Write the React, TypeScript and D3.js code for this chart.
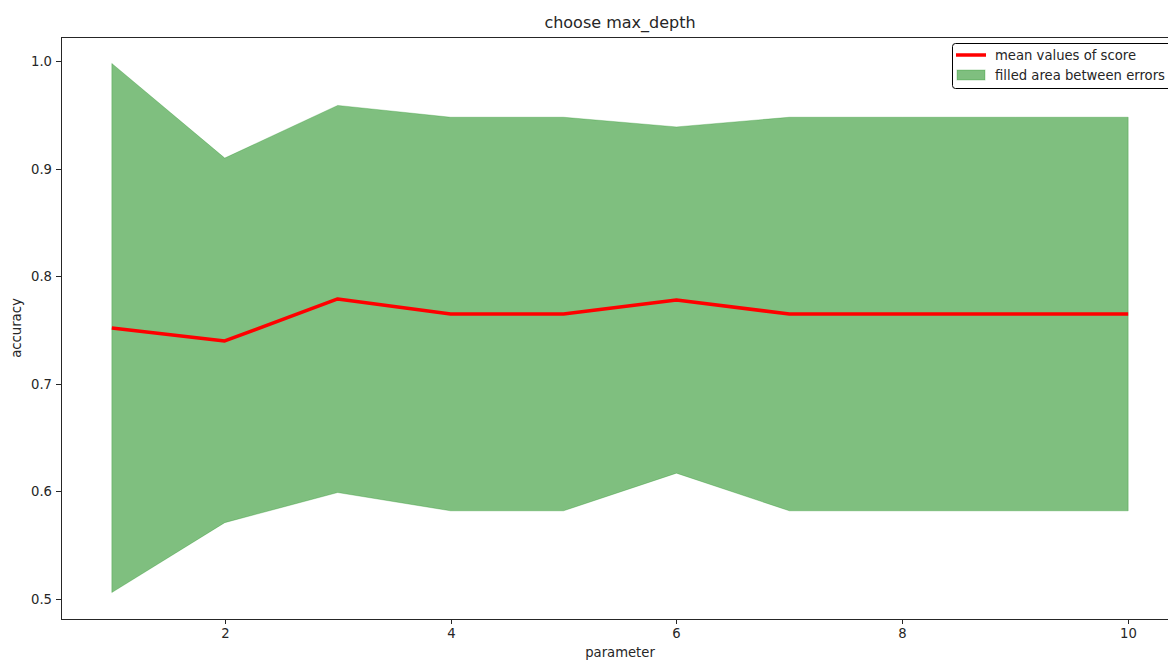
import { useEffect, useRef } from "react";
import * as d3 from "d3";

const params = [1, 2, 3, 4, 5, 6, 7, 8, 9, 10];
const meanScores = [0.752, 0.74, 0.779, 0.765, 0.765, 0.778, 0.765, 0.765, 0.765, 0.765];
const upperErrors = [0.998, 0.91, 0.959, 0.948, 0.948, 0.939, 0.948, 0.948, 0.948, 0.948];
const lowerErrors = [0.506, 0.571, 0.599, 0.582, 0.582, 0.617, 0.582, 0.582, 0.582, 0.582];
const xTicks = [2, 4, 6, 8, 10];
const yTicks = [0.5, 0.6, 0.7, 0.8, 0.9, 1.0];

export default function App() {
  const ref = useRef<SVGSVGElement>(null);

  useEffect(() => {
    const width = 1168;
    const height = 660;
    const left = 61;
    const right = 1179; // axes runs past the image edge, as in the original
    const top = 37;
    const bottom = 619;
    const font = "DejaVu Sans, sans-serif";
    const ink = "#262626";
    const fs = 13.2;

    const svg = d3.select(ref.current).attr("width", width).attr("height", height);
    svg.selectAll("*").remove();

    // matplotlib style 5% margins
    const x = d3.scaleLinear().domain([0.55, 10.45]).range([left, right]);
    const yMin = d3.min(lowerErrors)!;
    const yMax = d3.max(upperErrors)!;
    const pad = (yMax - yMin) * 0.05;
    const y = d3.scaleLinear().domain([yMin - pad, yMax + pad]).range([bottom, top]);

    const rows = params.map((p, i) => ({ p, m: meanScores[i], lo: lowerErrors[i], hi: upperErrors[i] }));

    const area = d3
      .area<(typeof rows)[number]>()
      .x((d) => x(d.p))
      .y0((d) => y(d.lo))
      .y1((d) => y(d.hi));

    svg.append("path")
      .attr("d", area(rows))
      .attr("fill", "green")
      .attr("fill-opacity", 0.5)
      .attr("stroke", "green")
      .attr("stroke-opacity", 0.25)
      .attr("stroke-width", 1);

    const line = d3
      .line<(typeof rows)[number]>()
      .x((d) => x(d.p))
      .y((d) => y(d.m));

    svg.append("path")
      .attr("d", line(rows))
      .attr("fill", "none")
      .attr("stroke", "red")
      .attr("stroke-width", 3.5)
      .attr("stroke-linejoin", "round");

    // spines
    svg.append("rect")
      .attr("x", left + 0.5)
      .attr("y", top + 0.5)
      .attr("width", right - left)
      .attr("height", bottom - top)
      .attr("fill", "none")
      .attr("stroke", ink)
      .attr("stroke-width", 1);

    // x ticks
    const xt = svg.append("g");
    xTicks.forEach((t) => {
      const px = Math.round(x(t)) + 0.5;
      xt.append("line").attr("x1", px).attr("x2", px).attr("y1", bottom).attr("y2", bottom + 5).attr("stroke", ink);
      xt.append("text")
        .attr("x", px)
        .attr("y", bottom + 19)
        .attr("text-anchor", "middle")
        .attr("font-family", font)
        .attr("font-size", fs)
        .attr("fill", ink)
        .text(d3.format("d")(t));
    });

    // y ticks
    const yt = svg.append("g");
    yTicks.forEach((t) => {
      const py = Math.round(y(t)) + 0.5;
      yt.append("line").attr("x1", left - 5).attr("x2", left).attr("y1", py).attr("y2", py).attr("stroke", ink);
      yt.append("text")
        .attr("x", left - 9)
        .attr("y", py)
        .attr("dy", "0.35em")
        .attr("text-anchor", "end")
        .attr("font-family", font)
        .attr("font-size", fs)
        .attr("fill", ink)
        .text(d3.format(".1f")(t));
    });

    // title and labels
    svg.append("text")
      .attr("x", (left + right) / 2)
      .attr("y", 28)
      .attr("text-anchor", "middle")
      .attr("font-family", font)
      .attr("font-size", 16)
      .attr("fill", ink)
      .text("choose max_depth");

    svg.append("text")
      .attr("x", (left + right) / 2)
      .attr("y", 657)
      .attr("text-anchor", "middle")
      .attr("font-family", font)
      .attr("font-size", fs)
      .attr("fill", ink)
      .text("parameter");

    svg.append("text")
      .attr("transform", `translate(21,${(top + bottom) / 2}) rotate(-90)`)
      .attr("text-anchor", "middle")
      .attr("font-family", font)
      .attr("font-size", fs)
      .attr("fill", ink)
      .text("accuracy");

    // legend
    const lg = svg.append("g").attr("transform", "translate(952,43)");
    lg.append("rect")
      .attr("x", 0.5)
      .attr("y", 0.5)
      .attr("width", 230)
      .attr("height", 45)
      .attr("rx", 3)
      .attr("fill", "white")
      .attr("stroke", "#000")
      .attr("stroke-width", 1);
    lg.append("line").attr("x1", 4).attr("x2", 34).attr("y1", 12).attr("y2", 12).attr("stroke", "red").attr("stroke-width", 3.5);
    lg.append("text")
      .attr("x", 43)
      .attr("y", 12)
      .attr("dy", "0.35em")
      .attr("font-family", font)
      .attr("font-size", fs)
      .attr("fill", ink)
      .text("mean values of score");
    lg.append("rect")
      .attr("x", 5)
      .attr("y", 27)
      .attr("width", 28)
      .attr("height", 10)
      .attr("fill", "green")
      .attr("fill-opacity", 0.5)
      .attr("stroke", "green")
      .attr("stroke-opacity", 0.25);
    lg.append("text")
      .attr("x", 43)
      .attr("y", 32)
      .attr("dy", "0.35em")
      .attr("font-family", font)
      .attr("font-size", fs)
      .attr("fill", ink)
      .text("filled area between errors");
  }, []);

  return (
    <svg
      ref={ref}
      style={{ position: "absolute", left: 0, top: 0, background: "white" }}
    />
  );
}
